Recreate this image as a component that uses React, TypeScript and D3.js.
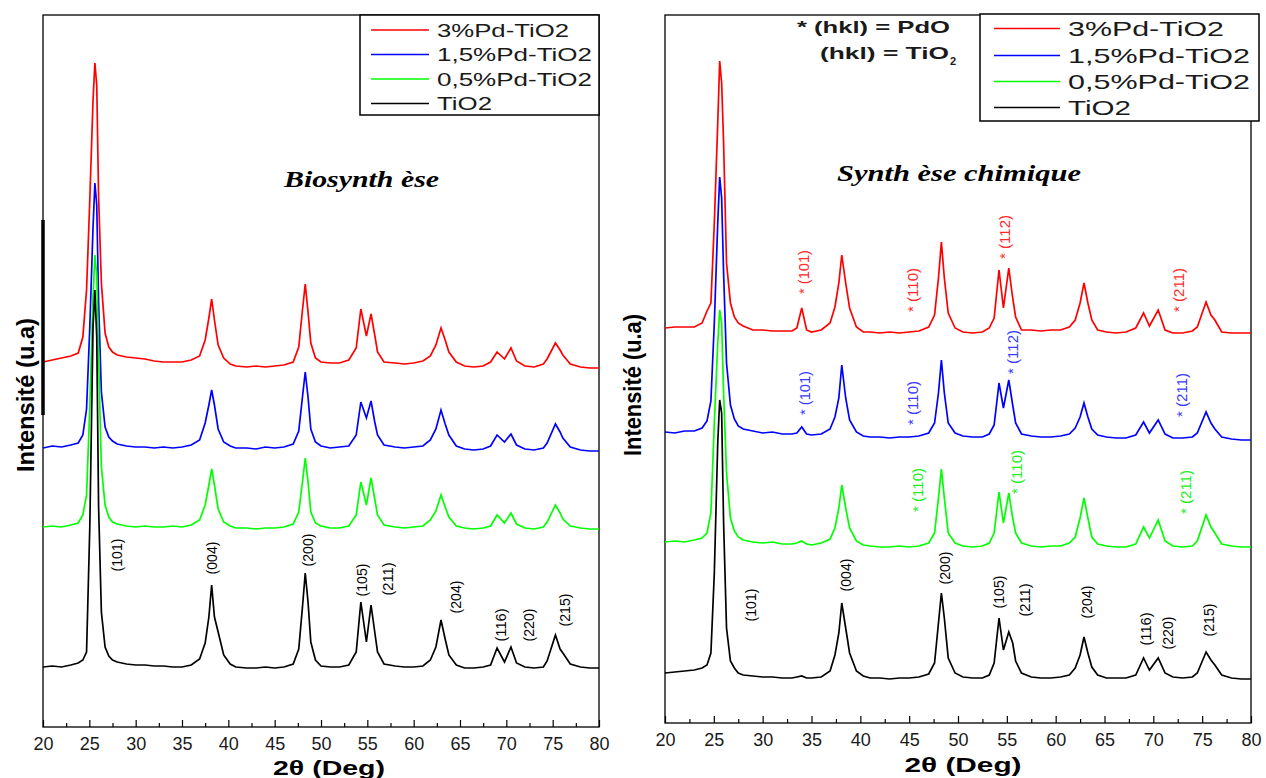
import React, { useRef, useEffect } from "react";
import * as d3 from "d3";

// ---- data (2θ in degrees, intensity in a.u., curves stacked) ----
const thetaBio = [
  20, 21, 22, 23, 23.8,
  24.3, 24.7, 25.05, 25.4, 25.6,
  25.8, 26.0, 26.3, 26.7, 27.1,
  27.5, 28, 29, 30, 31,
  32, 33, 34, 35, 36,
  36.9, 37.5, 37.9, 38.2, 38.5,
  38.9, 39.5, 40.2, 40.8, 42,
  43, 44, 45, 46, 47,
  47.6, 48.0, 48.3, 48.6, 48.9,
  49.4, 50, 51, 52, 53,
  53.8, 54.3, 54.9, 55.4, 55.8,
  56.1, 56.8, 58, 59, 60,
  61, 61.8, 62.4, 62.95, 63.4,
  63.8, 64.6, 65.5, 66.5, 67.5,
  68.3, 69.0, 69.8, 70.5, 71.1,
  72, 73, 74, 74.4, 75.3,
  75.8, 76.1, 76.9, 78, 79,
  80,
];
const bio3Pd = [
  365, 367, 369, 371, 374,
  390, 437, 527, 627, 664,
  642, 530, 444, 394, 380,
  375, 372, 370, 369, 368,
  366, 365, 365, 365, 367,
  371, 387, 409, 428, 407,
  382, 369, 363, 361, 360,
  361, 360, 361, 362, 365,
  380, 417, 443, 415, 384,
  369, 365, 364, 364, 367,
  379, 418, 391, 413, 392,
  375, 365, 364, 363, 364,
  366, 371, 382, 399, 387,
  375, 365, 361, 360, 361,
  365, 375, 368, 379, 366,
  361, 360, 363, 368, 384,
  377, 372, 363, 360, 359,
  359,
];
const bio15Pd = [
  279, 281, 280, 282, 284,
  292, 318, 400, 500, 544,
  522, 425, 335, 300, 290,
  286, 283, 281, 280, 280,
  279, 280, 279, 280, 282,
  287, 304, 322, 337, 322,
  298, 285, 281, 279, 279,
  278, 280, 279, 280, 283,
  296, 330, 355, 330, 298,
  285, 281, 279, 280, 281,
  292, 325, 309, 326, 305,
  292, 282, 280, 279, 280,
  281, 287, 298, 317, 303,
  292, 281, 278, 277, 278,
  281, 292, 285, 293, 282,
  278, 277, 279, 284, 303,
  295, 289, 280, 277, 276,
  276,
];
const bio05Pd = [
  200, 201, 200, 202, 204,
  212, 232, 320, 430, 472,
  452, 370, 260, 222, 210,
  205, 203, 201, 200, 201,
  200, 200, 201, 200, 202,
  207, 222, 242, 258, 242,
  218, 205, 201, 199, 199,
  198, 199, 199, 200, 203,
  215, 245, 269, 245, 215,
  204, 201, 199, 199, 201,
  212, 245, 222, 249, 228,
  212, 202, 200, 199, 200,
  201, 207, 216, 232, 220,
  210, 201, 199, 198, 199,
  201, 212, 204, 214, 203,
  199, 198, 200, 205, 222,
  214, 208, 201, 199, 198,
  198,
];
const bioTiO2 = [
  60, 61, 60, 62, 64,
  67, 75, 200, 400, 437,
  390, 220, 115, 80, 71,
  67, 65, 63, 62, 62,
  61, 61, 60, 60, 62,
  68, 84, 110, 142, 110,
  95, 72, 63, 60, 59,
  59, 60, 59, 60, 63,
  78, 120, 154, 125, 85,
  67, 61, 60, 60, 62,
  75, 125, 85, 122, 95,
  75, 63, 61, 60, 60,
  61, 67, 80, 107, 88,
  72, 62, 59, 59, 60,
  62, 79, 65, 80, 64,
  60, 59, 60, 66, 92,
  78, 74, 63, 60, 59,
  59,
];

const thetaChem = [
  20, 21, 22, 23, 23.8,
  24.3, 24.7, 25.05, 25.4, 25.6,
  25.8, 26.0, 26.3, 26.7, 27.1,
  27.5, 28, 29, 30, 31,
  32, 33, 33.5, 34.0, 34.5,
  35, 36, 36.9, 37.4, 37.8,
  38.1, 38.5, 38.9, 39.6, 40.3,
  41, 42, 43, 44, 45,
  46, 47, 47.6, 48.0, 48.3,
  48.6, 49.0, 49.7, 50.5, 51.5,
  52.5, 53.2, 53.7, 54.2, 54.65,
  55.2, 55.6, 55.9, 56.5, 57.5,
  58.5, 59.5, 60.5, 61.4, 62.0,
  62.5, 62.9, 63.3, 63.7, 64.3,
  65.2, 66.2, 67.2, 68.2, 69.0,
  69.6, 70.5, 71.2, 72, 73,
  74, 74.5, 75.4, 75.9, 76.3,
  77, 78, 79, 80,
];
const chem3Pd = [
  395, 396, 396, 396, 400,
  412, 420, 500, 600, 662,
  640, 580, 460, 420, 406,
  400, 397, 393, 393, 392,
  392, 392, 395, 415, 393,
  391, 393, 400, 416, 440,
  468, 440, 415, 396, 391,
  391, 390, 391, 390, 391,
  392, 396, 408, 445, 481,
  445, 410, 395, 391, 390,
  391, 395, 405, 453, 415,
  455, 425, 406, 393, 393,
  392, 393, 393, 396, 403,
  420, 440, 420, 403, 393,
  391, 390, 391, 395, 410,
  397, 413, 393, 390, 390,
  392, 396, 421, 408, 403,
  391, 390, 390, 390,
];
const chem15Pd = [
  291, 290, 292, 292, 295,
  302, 322, 400, 500, 546,
  525, 450, 360, 318, 304,
  297, 294, 292, 290, 291,
  289, 289, 290, 296, 289,
  288, 289, 294, 306, 325,
  358, 325, 303, 291, 287,
  286, 286, 285, 286, 286,
  287, 290, 300, 330, 363,
  330, 300, 290, 287, 286,
  286, 289, 298, 340, 315,
  343, 318, 300, 289, 287,
  286, 286, 287, 289, 295,
  306, 320, 306, 294, 288,
  286, 285, 285, 288, 301,
  290, 303, 289, 285, 285,
  286, 290, 311, 300, 294,
  286, 284, 283, 283,
];
const chem05Pd = [
  181, 182, 181, 183, 185,
  190, 210, 300, 380, 413,
  400, 330, 250, 205, 192,
  186, 183, 181, 180, 181,
  179, 179, 180, 182, 179,
  178, 180, 184, 195, 215,
  238, 215, 195, 182, 178,
  177, 176, 176, 177, 176,
  177, 180, 190, 225, 254,
  225, 190, 180, 177, 176,
  177, 180, 190, 231, 200,
  230, 205, 190, 180, 177,
  176, 177, 177, 180, 186,
  205, 225, 205, 186, 179,
  177, 176, 176, 179, 196,
  185, 203, 182, 177, 176,
  177, 182, 208, 196, 190,
  179, 177, 176, 176,
];
const chemTiO2 = [
  50, 51, 52, 53, 55,
  58, 70, 150, 280, 323,
  310, 200, 95, 62, 55,
  50, 48, 47, 46, 46,
  45, 45, 46, 47, 45,
  45, 46, 52, 68, 90,
  120, 95, 70, 52, 47,
  45, 45, 44, 45, 45,
  46, 49, 60, 100, 130,
  105, 65, 50, 46, 45,
  45, 48, 60, 105, 73,
  91, 80, 62, 50, 46,
  45, 45, 46, 48, 55,
  68, 86, 70, 56, 48,
  45, 45, 45, 48, 65,
  53, 65, 50, 46, 45,
  46, 50, 71, 63, 58,
  48, 45, 44, 44,
];

const seriesNames = ["3%Pd-TiO2", "1,5%Pd-TiO2", "0,5%Pd-TiO2", "TiO2"];
const seriesColors = ["#ff0000", "#0000ff", "#00ff00", "#000000"];
const xTicks = [20, 25, 30, 35, 40, 45, 50, 55, 60, 65, 70, 75, 80];

const hklTiO2 = ["(101)", "(004)", "(200)", "(105)", "(211)", "(204)", "(116)", "(220)", "(215)"];
const hklBioTheta = [27.9, 38.2, 48.5, 54.4, 57.2, 64.5, 69.4, 72.4, 76.3];
const hklBioLevel = [172, 169, 177, 147, 148, 130, 102, 102, 117];
const hklChemTheta = [28.8, 38.5, 48.6, 54.1, 56.8, 63.2, 69.2, 71.5, 75.6];
const hklChemLevel = [118, 148, 155, 131, 123, 121, 94, 90, 103];

const pdoRed = ["* (101)", "* (110)", "* (112)", "* (211)"];
const pdoRedTheta = [34.2, 45.3, 54.8, 72.6];
const pdoRedLevel = [451, 433, 486, 433];
const pdoBlue = ["* (101)", "* (110)", "* (112)", "* (211)"];
const pdoBlueTheta = [34.3, 45.3, 55.6, 72.9];
const pdoBlueLevel = [330, 320, 371, 328];
const pdoGreen = ["* (110)", "* (110)", "* (211)"];
const pdoGreenTheta = [45.9, 56.0, 73.3];
const pdoGreenLevel = [233, 251, 231];

const SANS = "Arial, 'Liberation Sans', Helvetica, sans-serif";
const SERIF = "'Times New Roman', 'Liberation Serif', serif";

const App = () => {
  const ref = useRef(null);

  useEffect(() => {
    const root = d3.select(ref.current);
    root.selectAll("*").remove();

    const panels = [
      {
        x0: 43, x1: 599, top: 15, bottom: 727,
        theta: thetaBio,
        series: [bio3Pd, bio15Pd, bio05Pd, bioTiO2],
        hklTheta: hklBioTheta, hklLevel: hklBioLevel,
        title: "Biosynth èse", titleX: 284, titleY: 187, titleLen: 155,
        ylabX: 25, ylabY: 395, ylabLen: 154,
        xlabX: 329, xlabY: 775, xlabLen: 112,
        legend: { x: 360, y: 15, w: 239, h: 100, l0: 371, l1: 429, tx: 437, rows: [30, 54.5, 79, 103.5], fs: 19, lens: [132, 155, 155, 55] },
      },
      {
        x0: 665, x1: 1251, top: 15, bottom: 723,
        theta: thetaChem,
        series: [chem3Pd, chem15Pd, chem05Pd, chemTiO2],
        hklTheta: hklChemTheta, hklLevel: hklChemLevel,
        title: "Synth èse chimique", titleX: 837, titleY: 181, titleLen: 244,
        ylabX: 632, ylabY: 385, ylabLen: 142,
        xlabX: 963, xlabY: 772, xlabLen: 117,
        legend: { x: 980, y: 14, w: 279, h: 107, l0: 994, l1: 1060, tx: 1068, rows: [28.5, 55.5, 81.5, 107.5], fs: 21, lens: [156, 182, 182, 63] },
      },
    ];

    panels.forEach((p, pi) => {
      const g = root.append("g");
      const x = d3.scaleLinear().domain([20, 80]).range([p.x0, p.x1]);
      const y = d3.scaleLinear().domain([0, p.bottom - p.top]).range([p.bottom, p.top]);

      // frame
      g.append("rect")
        .attr("x", p.x0).attr("y", p.top)
        .attr("width", p.x1 - p.x0).attr("height", p.bottom - p.top)
        .attr("fill", "none").attr("stroke", "#000").attr("stroke-width", 1.3);

      // x axis, ticks inside
      const ax = g.append("g").attr("transform", `translate(0,${p.bottom})`)
        .call(d3.axisBottom(x).tickValues(xTicks).tickSize(-7).tickPadding(10).tickFormat(d3.format("d")));
      ax.select(".domain").remove();
      ax.selectAll("line").attr("stroke", "#000").attr("stroke-width", 1.2);
      ax.selectAll("text").attr("font-size", 18).attr("font-family", SANS).attr("fill", "#1a1a1a");
      const minor = g.append("g").attr("transform", `translate(0,${p.bottom})`)
        .call(d3.axisBottom(x).tickValues(xTicks.slice(0, -1).map((t) => t + 2.5)).tickSize(-4).tickFormat(() => ""));
      minor.select(".domain").remove();
      minor.selectAll("line").attr("stroke", "#000").attr("stroke-width", 1.2);

      // traces
      const line = d3.line().x((d) => x(d[0])).y((d) => y(d[1]));
      p.series.forEach((vals, si) => {
        g.append("path")
          .datum(d3.zip(p.theta, vals))
          .attr("d", line)
          .attr("fill", "none")
          .attr("stroke", seriesColors[si])
          .attr("stroke-width", 1.7)
          .attr("stroke-linejoin", "miter");
      });

      // hkl labels
      const vlabel = (txt, t, lv, color, len) => {
        g.append("text")
          .attr("transform", `translate(${x(t)},${y(lv)}) rotate(-90)`)
          .attr("text-anchor", "middle")
          .attr("dominant-baseline", "central")
          .attr("font-family", SANS)
          .attr("font-size", 15)
          .attr("fill", color)
          .attr("textLength", len)
          .attr("lengthAdjust", "spacingAndGlyphs")
          .text(txt);
      };
      hklTiO2.forEach((h, i) => vlabel(h, p.hklTheta[i], p.hklLevel[i], "#000", 33));
      if (pi === 1) {
        pdoRed.forEach((h, i) => vlabel(h, pdoRedTheta[i], pdoRedLevel[i], "#ff2a2a", 44));
        pdoBlue.forEach((h, i) => vlabel(h, pdoBlueTheta[i], pdoBlueLevel[i], "#3b3bff", 44));
        pdoGreen.forEach((h, i) => vlabel(h, pdoGreenTheta[i], pdoGreenLevel[i], "#22ee22", 44));
      }

      // titles and axis labels
      g.append("text")
        .attr("x", p.titleX).attr("y", p.titleY)
        .attr("font-family", SERIF).attr("font-size", 24)
        .attr("font-weight", "bold").attr("font-style", "italic")
        .attr("textLength", p.titleLen).attr("lengthAdjust", "spacingAndGlyphs")
        .text(p.title);
      g.append("text")
        .attr("transform", `translate(${p.ylabX},${p.ylabY}) rotate(-90)`)
        .attr("text-anchor", "middle").attr("dominant-baseline", "central")
        .attr("font-family", SANS).attr("font-size", 24).attr("font-weight", "bold")
        .attr("textLength", p.ylabLen).attr("lengthAdjust", "spacingAndGlyphs")
        .text("Intensité (u.a)");
      g.append("text")
        .attr("x", p.xlabX - p.xlabLen / 2).attr("y", p.xlabY)
        .attr("font-family", SANS).attr("font-size", 20).attr("font-weight", "bold")
        .attr("textLength", p.xlabLen).attr("lengthAdjust", "spacingAndGlyphs")
        .text("2θ (Deg)");

      // legend
      const L = p.legend;
      g.append("rect")
        .attr("x", L.x).attr("y", L.y).attr("width", L.w).attr("height", L.h)
        .attr("fill", "#fff").attr("stroke", "#000").attr("stroke-width", 1.5);
      seriesNames.forEach((name, i) => {
        g.append("line")
          .attr("x1", L.l0).attr("x2", L.l1).attr("y1", L.rows[i]).attr("y2", L.rows[i])
          .attr("stroke", seriesColors[i]).attr("stroke-width", 1.4);
        g.append("text")
          .attr("x", L.tx).attr("y", L.rows[i] + L.fs * 0.36)
          .attr("font-family", SANS).attr("font-size", L.fs).attr("fill", "#1a1a1a")
          .attr("textLength", L.lens[i]).attr("lengthAdjust", "spacingAndGlyphs")
          .text(name);
      });
    });

    // stray thick stroke on the left axis of the first panel
    root.append("line")
      .attr("x1", 43).attr("x2", 43).attr("y1", 220).attr("y2", 415)
      .attr("stroke", "#000").attr("stroke-width", 3.5);

    // PdO / TiO2 key
    root.append("text")
      .attr("x", 797).attr("y", 33)
      .attr("font-family", SANS).attr("font-size", 17).attr("font-weight", "bold").attr("fill", "#1a1a1a")
      .attr("textLength", 153).attr("lengthAdjust", "spacingAndGlyphs")
      .text("* (hkl) = PdO");
    root.append("text")
      .attr("x", 820).attr("y", 59)
      .attr("font-family", SANS).attr("font-size", 17).attr("font-weight", "bold").attr("fill", "#1a1a1a")
      .attr("textLength", 129).attr("lengthAdjust", "spacingAndGlyphs")
      .text("(hkl) = TiO");
    root.append("text")
      .attr("x", 950).attr("y", 65)
      .attr("font-family", SANS).attr("font-size", 11).attr("font-weight", "bold").attr("fill", "#1a1a1a")
      .text("2");
  }, []);

  return (
    <svg
      ref={ref}
      width={1266}
      height={778}
      style={{ position: "absolute", left: 0, top: 0, background: "#fff" }}
    />
  );
};

export default App;
